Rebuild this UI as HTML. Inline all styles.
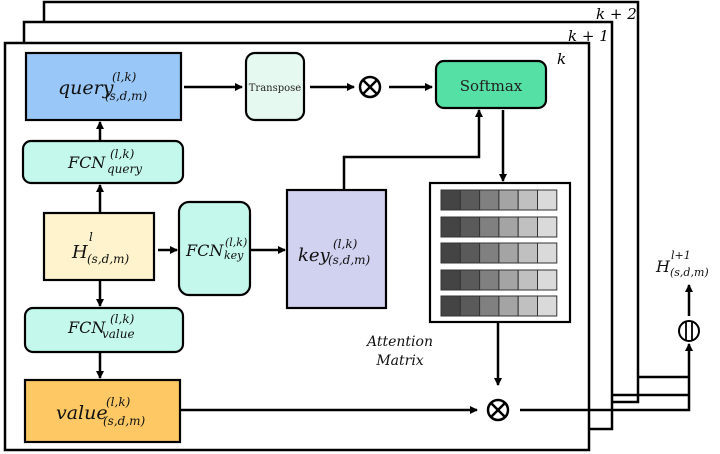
<!DOCTYPE html>
<html><head><style>
html,body{margin:0;padding:0;background:#fff;}
svg{display:block;}
text{font-family:"DejaVu Serif","Liberation Serif",serif;}
</style></head><body>
<svg width="720" height="454" viewBox="0 0 720 454" xmlns="http://www.w3.org/2000/svg">
<defs>
<marker id="a" markerWidth="8" markerHeight="8" refX="7" refY="4" orient="auto" markerUnits="userSpaceOnUse">
<path d="M0,0 L8,4 L0,8 z" fill="#000"/></marker>
</defs>
<g fill="#fff" stroke="#000" stroke-width="2.5">
<rect x="44" y="2" width="594" height="400"/>
<rect x="24" y="22" width="588" height="407"/>
<rect x="5" y="43" width="584" height="407"/>
</g>
<g font-style="italic" font-size="15">
<text x="596" y="19">k + 2</text>
<text x="568" y="41">k + 1</text>
<text x="557" y="64">k</text>
</g>
<g stroke="#000" stroke-width="2.2">
<rect x="26" y="53" width="155" height="67" fill="#99c7f7"/>
<rect x="246" y="53" width="58" height="67" rx="9" fill="#e6f9f0"/>
<rect x="436" y="61" width="110" height="47" rx="8" fill="#55e0a5"/>
<rect x="23" y="141" width="160" height="42" rx="8" fill="#c5f8ec"/>
<rect x="44" y="213" width="110" height="67" fill="#fef3cc"/>
<rect x="179" y="202" width="71" height="93" rx="10" fill="#c5f8ec"/>
<rect x="287" y="190" width="99" height="118" fill="#d1d1f0"/>
<rect x="25" y="308" width="158" height="44" rx="8" fill="#c5f8ec"/>
<rect x="25" y="380" width="155" height="62" fill="#fec964"/>
<rect x="430" y="183" width="140" height="139" fill="#fff"/>
</g>
<g stroke="#333" stroke-width="1">
<g id="row">
<rect x="441" y="190" width="19.3" height="20" fill="#444"/>
<rect x="460.3" y="190" width="19.3" height="20" fill="#5a5a5a"/>
<rect x="479.6" y="190" width="19.3" height="20" fill="#808080"/>
<rect x="498.9" y="190" width="19.3" height="20" fill="#a4a4a4"/>
<rect x="518.2" y="190" width="19.3" height="20" fill="#c0c0c0"/>
<rect x="537.5" y="190" width="19.3" height="20" fill="#dadada"/>
</g>
<use href="#row" y="27"/>
<use href="#row" y="53"/>
<use href="#row" y="80"/>
<use href="#row" y="106"/>
</g>
<g stroke="#000" stroke-width="2.5" fill="none" marker-end="url(#a)">
<line x1="184" y1="87" x2="242" y2="87"/>
<line x1="310" y1="87" x2="354" y2="87"/>
<line x1="389" y1="87" x2="432" y2="87"/>
<line x1="503" y1="110" x2="503" y2="181"/>
<polyline points="344,190 344,157 479,157 479,110"/>
<line x1="100" y1="141" x2="100" y2="122"/>
<line x1="100" y1="212" x2="100" y2="185"/>
<line x1="158" y1="250" x2="177" y2="250"/>
<line x1="251" y1="250" x2="285" y2="250"/>
<line x1="100" y1="281" x2="100" y2="306"/>
<line x1="100" y1="352" x2="100" y2="378"/>
<line x1="498" y1="323" x2="498" y2="385"/>
<line x1="181" y1="410" x2="477" y2="410"/>
<polyline points="520,410 689,410 689,344"/>
<line x1="689" y1="316" x2="689" y2="285"/>
</g>
<g stroke="#000" stroke-width="2.5" fill="none">
<polyline points="638,377 689,377"/>
<polyline points="612,395 689,395"/>
<circle cx="370" cy="87" r="10"/>
<line x1="363" y1="80" x2="377" y2="94"/><line x1="377" y1="80" x2="363" y2="94"/>
<circle cx="498" cy="410" r="10"/>
<line x1="491" y1="403" x2="505" y2="417"/><line x1="505" y1="403" x2="491" y2="417"/>
<circle cx="689" cy="331" r="10" stroke-width="2"/>
<line x1="686" y1="321" x2="686" y2="341" stroke-width="1.8"/>
<line x1="692" y1="321" x2="692" y2="341" stroke-width="1.8"/>
</g>
<g font-style="italic" fill="#111">
<text x="58" y="94" font-size="19">query</text>
<text x="112" y="81" font-size="12">(l,k)</text>
<text x="105" y="100" font-size="12">(s,d,m)</text>

<text x="68" y="168" font-size="16">FCN</text>
<text x="110" y="158" font-size="12">(l,k)</text>
<text x="107" y="173" font-size="12">query</text>

<text x="72" y="258" font-size="18">H</text>
<text x="89" y="241" font-size="12">l</text>
<text x="87" y="263" font-size="12">(s,d,m)</text>

<text x="186" y="256" font-size="16">FCN</text>
<text x="225" y="246" font-size="11">(l,k)</text>
<text x="224" y="259" font-size="11">key</text>

<text x="298" y="261" font-size="18">key</text>
<text x="333" y="248" font-size="12">(l,k)</text>
<text x="328" y="264" font-size="12">(s,d,m)</text>

<text x="68" y="333" font-size="16">FCN</text>
<text x="110" y="323" font-size="12">(l,k)</text>
<text x="102" y="338" font-size="12">value</text>

<text x="56" y="419" font-size="19">value</text>
<text x="106" y="406" font-size="12">(l,k)</text>
<text x="103" y="425" font-size="12">(s,d,m)</text>

<text x="400" y="346" font-size="14" text-anchor="middle">Attention</text>
<text x="400" y="365" font-size="14" text-anchor="middle">Matrix</text>

<text x="656" y="272" font-size="16">H</text>
<text x="671" y="259" font-size="11">l+1</text>
<text x="670" y="276" font-size="11">(s,d,m)</text>
</g>
<text x="275" y="91" font-size="10" text-anchor="middle" font-family="Liberation Serif" fill="#222">Transpose</text>
<text x="491" y="91" font-size="15" text-anchor="middle" font-family="Liberation Serif" fill="#222">Softmax</text>
</svg>
</body></html>
